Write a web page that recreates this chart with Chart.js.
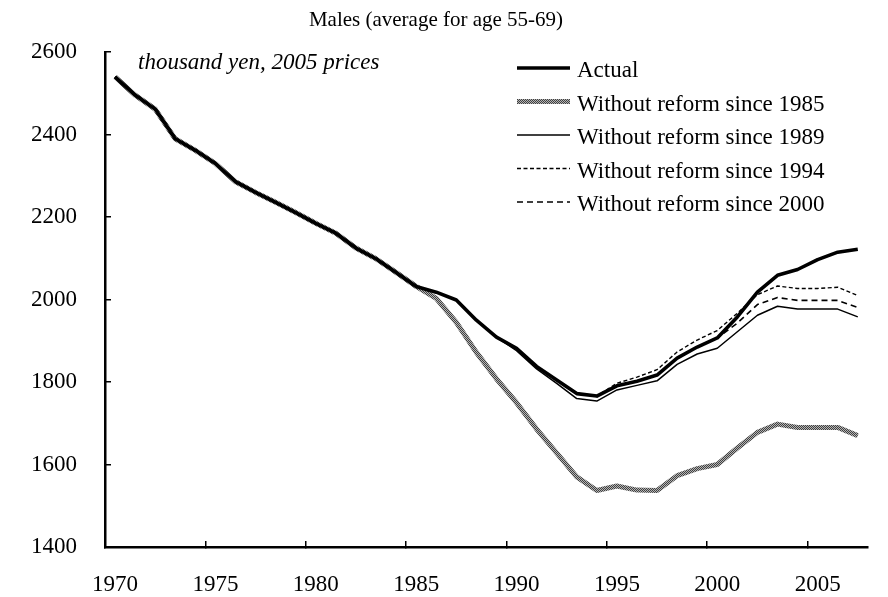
<!DOCTYPE html>
<html>
<head>
<meta charset="utf-8">
<script src="https://cdn.jsdelivr.net/npm/chart.js@4/dist/chart.umd.min.js"></script>
<style>
  html, body { margin: 0; padding: 0; background: #fff; }
  #wrap { width: 888px; height: 597px; }
</style>
</head>
<body>
<div id="wrap"><canvas id="chart" width="888" height="597"></canvas></div>
<script>
const years = [];
for (let y = 1970; y <= 2007; y++) years.push(String(y));

const yTicks = [1400, 1600, 1800, 2000, 2200, 2400, 2600];

// values, thousand yen (2005 prices)
const actual = [
  2540, 2496, 2462, 2390, 2362, 2330, 2286, 2260, 2236, 2211,
  2185, 2161, 2125, 2099, 2066, 2032, 2018, 1999, 1950, 1909,
  1882, 1838, 1805, 1772, 1766, 1791, 1802, 1817, 1858, 1885,
  1907, 1958, 2018, 2059, 2073, 2097, 2115, 2122
];
// counterfactuals follow the actual path until the reform year
const after1985 = [2003, 1945, 1872, 1808, 1750, 1686, 1628, 1570, 1537, 1548,
  1538, 1537, 1573, 1590, 1600, 1640, 1678, 1698, 1690, 1690, 1690, 1670];
const after1989 = [1876, 1832, 1797, 1760, 1754, 1781, 1792, 1803, 1843, 1868,
  1882, 1922, 1962, 1984, 1977, 1977, 1977, 1958];
const after1994 = [1797, 1812, 1830, 1873, 1902, 1925, 1967, 2012, 2033, 2027,
  2027, 2030, 2010];
const after2000 = [1943, 1988, 2005, 1998, 1998, 1998, 1981];

const since1985 = actual.slice(0, 16).concat(after1985);
const since1989 = actual.slice(0, 20).concat(after1989);
const since1994 = actual.slice(0, 25).concat(after1994);
const since2000 = actual.slice(0, 31).concat(after2000);

const seriesNames = [
  "Actual",
  "Without reform since 1985",
  "Without reform since 1989",
  "Without reform since 1994",
  "Without reform since 2000",
];

const SERIF = "'Liberation Serif', 'Times New Roman', serif";

const canvas = document.getElementById("chart");
const ctx = canvas.getContext("2d");

// speckled grey used for the 1985 line
function greyPattern() {
  const c = document.createElement("canvas");
  c.width = 2;
  c.height = 2;
  const g = c.getContext("2d");
  g.fillStyle = "#b4b4b4";
  g.fillRect(0, 0, 2, 2);
  g.fillStyle = "#404040";
  g.fillRect(0, 0, 1, 1);
  g.fillRect(1, 1, 1, 1);
  return ctx.createPattern(c, "repeat");
}

const legendAndNote = {
  id: "legendAndNote",
  afterDatasetsDraw(chart) {
    const c = chart.ctx;
    const area = chart.chartArea;
    c.save();
    c.fillStyle = "#000";
    c.textBaseline = "alphabetic";
    c.textAlign = "left";

    c.font = "italic 23px " + SERIF;
    c.fillText("thousand yen, 2005 prices", area.left + 33, 69);

    c.font = "23px " + SERIF;
    const x0 = 517, x1 = 570;
    chart.data.datasets.forEach((ds, i) => {
      const base = 77 + i * 33.5;
      const ly = base - 9;
      c.beginPath();
      c.strokeStyle = ds.borderColor;
      c.lineWidth = ds.borderWidth;
      c.setLineDash(ds.borderDash || []);
      c.moveTo(x0, ly);
      c.lineTo(x1, ly);
      c.stroke();
      c.setLineDash([]);
      c.fillText(ds.label, 577, base);
    });
    c.restore();
  },
};

new Chart(ctx, {
  type: "line",
  data: {
    labels: years,
    datasets: [
      {
        label: seriesNames[0],
        data: actual,
        borderColor: "#000",
        borderWidth: 3.6,
        order: 0,
      },
      {
        label: seriesNames[1],
        data: since1985,
        borderColor: greyPattern(),
        borderWidth: 5,
        order: 4,
      },
      {
        label: seriesNames[2],
        data: since1989,
        borderColor: "#000",
        borderWidth: 1.5,
        order: 3,
      },
      {
        label: seriesNames[3],
        data: since1994,
        borderColor: "#000",
        borderWidth: 1.4,
        borderDash: [4, 2.5],
        order: 2,
      },
      {
        label: seriesNames[4],
        data: since2000,
        borderColor: "#000",
        borderWidth: 1.6,
        borderDash: [6, 4],
        order: 1,
      },
    ],
  },
  options: {
    responsive: false,
    animation: false,
    layout: { padding: { left: 0, right: 16, top: 0, bottom: 0 } },
    elements: {
      point: { radius: 0 },
      line: { tension: 0, borderCapStyle: "butt", borderJoinStyle: "round" },
    },
    plugins: {
      legend: { display: false },
      tooltip: { enabled: false },
      title: {
        display: true,
        text: "Males (average for age 55-69)",
        color: "#000",
        font: { family: SERIF, size: 21, weight: "normal" },
        padding: { top: 8, bottom: 19 },
      },
    },
    scales: {
      x: {
        type: "category",
        offset: true,
        afterFit: s => { s.height = 50; },
        grid: {
          offset: true,
          drawOnChartArea: false,
          drawTicks: true,
          tickLength: -6,
          lineWidth: 1.5,
          color: c => (c.index % 5 === 0 ? "#000" : "rgba(0,0,0,0)"),
        },
        border: { display: true, color: "#000", width: 2.5 },
        ticks: {
          autoSkip: false,
          maxRotation: 0,
          padding: 30,
          color: "#000",
          font: { family: SERIF, size: 23 },
          callback: (v, i) => (i % 5 === 0 ? years[i] : ""),
        },
      },
      y: {
        min: yTicks[0],
        max: yTicks[yTicks.length - 1],
        afterFit: s => { s.width = 105; },
        afterBuildTicks: s => { s.ticks = yTicks.map(v => ({ value: v })); },
        grid: {
          drawOnChartArea: false,
          drawTicks: true,
          tickLength: -6,
          lineWidth: 1.5,
          color: "#000",
        },
        border: { display: true, color: "#000", width: 2.5 },
        ticks: {
          padding: 34,
          color: "#000",
          font: { family: SERIF, size: 23 },
          callback: v => String(v),
        },
      },
    },
  },
  plugins: [legendAndNote],
});
</script>
</body>
</html>
